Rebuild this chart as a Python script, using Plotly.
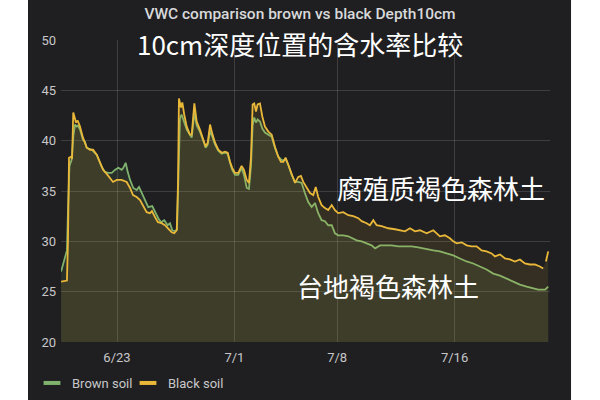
import plotly.graph_objects as go
import pandas as pd

# time in days since 2021-06-19 00:00, values are VWC (%)
start = pd.Timestamp("2021-06-19")

black_days = [0.19, 0.59, 0.66, 0.73, 0.87, 0.94, 1.02, 1.14, 1.21, 1.32, 1.48, 1.68, 1.94, 2.16, 2.37,
              2.62, 2.84, 3.05, 3.30, 3.52, 3.73, 3.98, 4.32, 4.66, 4.89, 5.09, 5.34, 5.57, 5.77, 6.02,
              6.25, 6.38, 6.59, 6.79, 7.04, 7.27, 7.47, 7.73, 7.90, 8.07, 8.16, 8.22, 8.36, 8.45, 8.58,
              8.75, 8.97, 9.09, 9.27, 9.43, 9.65, 9.88, 10.04, 10.18, 10.34, 10.49, 10.68, 10.90, 11.13,
              11.36, 11.54, 11.70, 11.85, 12.04, 12.26, 12.49, 12.65, 12.84, 12.99, 13.13, 13.24, 13.35,
              13.47, 13.58, 13.74, 13.90, 14.08, 14.31, 14.54, 14.76, 14.99, 15.17, 15.33, 15.49, 15.67,
              15.90, 16.13, 16.35, 16.53, 16.69, 16.92, 17.15, 17.37, 17.54, 17.71, 17.94, 18.17, 18.39,
              18.63, 18.85, 19.07, 19.42, 19.76, 20.10, 20.44, 20.67, 21.01, 21.23, 21.46, 21.69, 22.03,
              22.48, 22.94, 23.28, 23.62, 23.96, 24.30, 24.64, 25.10, 25.55, 25.78, 26.00, 26.34, 26.68,
              26.91, 27.14, 27.48, 27.82, 28.16, 28.50, 28.84, 29.18, 29.52, 29.75, 30.09, 30.43, 30.77,
              31.11, 31.45, 31.79, 32.13, 32.47, 32.81, 33.04, 33.13, 33.22, 33.38]
black_vwc = [26.0, 26.1, 30.0, 38.3, 38.4, 38.2, 42.8, 42.3, 41.8, 42.0, 41.4, 40.3, 39.3, 39.1, 39.1,
             38.6, 37.8, 37.1, 36.7, 36.3, 35.9, 36.1, 36.1, 35.9, 35.3, 34.6, 34.4, 34.1, 33.6, 32.9,
             32.8, 33.0, 32.4, 31.9, 31.8, 31.6, 31.3, 30.9, 30.8, 31.1, 36.0, 44.2, 43.3, 43.8, 42.6,
             41.4, 40.6, 40.6, 43.7, 41.9, 41.1, 40.1, 39.4, 39.8, 41.6, 40.7, 39.8, 39.1, 38.8,
             38.9, 38.8, 37.9, 37.3, 36.8, 36.8, 37.5, 37.1, 36.1, 35.8, 38.4, 43.6, 43.7,
             42.9, 43.6, 43.7, 42.4, 41.4, 40.9, 40.6, 39.4, 38.4, 37.9, 37.9, 38.3, 37.6,
             36.8, 35.8, 36.4, 36.5, 35.9, 35.3, 34.8, 34.6, 35.4, 34.4, 33.6, 33.3, 33.1,
             33.6, 33.1, 32.8, 32.9, 32.6, 32.5, 32.3, 32.0, 31.8, 31.6, 32.1, 31.6, 31.5,
             31.3, 31.2, 31.1, 31.0, 31.3, 31.0, 31.1, 30.8, 31.1, 30.8, 30.5, 30.6, 30.3,
             30.0, 29.8, 29.9, 29.6, 29.5, 29.5, 29.1, 29.0, 28.8, 28.5, 28.7, 28.3, 28.2,
             28.0, 28.2, 27.8, 27.7, 27.7, 27.5, 27.3, None, 28.0, 29.0]

brown_days = [0.19, 0.59, 0.66, 0.76, 0.91, 1.03, 1.14, 1.25, 1.34, 1.48, 1.68, 1.82, 1.94, 2.28, 2.62,
              2.96, 3.18, 3.41, 3.64, 3.86, 4.09, 4.32, 4.43, 4.59, 4.73, 4.89, 5.11, 5.34, 5.50, 5.68,
              5.91, 6.13, 6.40, 6.59, 6.81, 7.00, 7.22, 7.45, 7.61, 7.77, 7.95, 8.09, 8.17, 8.24, 8.29,
              8.40, 8.53, 8.75, 9.09, 9.27, 9.43, 9.65, 9.88, 10.04, 10.18, 10.34, 10.49, 10.68, 10.90,
              11.13, 11.36, 11.54, 11.70, 11.85, 12.04, 12.26, 12.49, 12.65, 12.84, 12.99, 13.13, 13.24,
              13.35, 13.47, 13.58, 13.74, 13.90, 14.08, 14.31, 14.54, 14.76, 14.99, 15.21, 15.33, 15.49,
              15.67, 15.90, 16.13, 16.35, 16.58, 16.80, 17.03, 17.26, 17.49, 17.71, 17.94, 18.17, 18.39,
              18.63, 18.85, 19.07, 19.42, 19.76, 20.10, 20.33, 20.67, 21.01, 21.35, 21.58, 21.92, 22.26,
              22.71, 23.16, 23.62, 24.07, 24.52, 24.98, 25.55, 26.00, 26.46, 26.91, 27.36, 27.82, 28.27,
              28.73, 29.18, 29.63, 30.09, 30.55, 31.00, 31.45, 31.91, 32.36, 32.70, 32.93, 33.16, 33.38]
brown_vwc = [27.0, 29.1, 33.0, 37.5, 38.1, 40.5, 41.6, 41.4, 41.5, 41.1, 40.1, 39.9, 39.3, 39.1, 38.6,
             37.4, 36.9, 36.8, 36.8, 37.1, 37.3, 37.1, 37.3, 37.8, 36.9, 36.1, 35.3, 35.1, 35.4, 34.8,
             34.1, 33.4, 33.5, 32.9, 32.3, 31.9, 32.1, 31.6, 31.8, 31.1, 31.0, 31.2, 36.0, 41.5, 42.2,
             42.6, 42.0, 41.1, 40.3, 42.8, 41.5, 40.9, 40.0, 39.3, 39.6, 41.0, 40.4, 39.6, 39.0,
             38.7, 38.8, 38.7, 37.8, 37.1, 36.6, 36.6, 37.3, 36.6, 35.3, 35.2, 37.5, 41.5,
             42.3, 41.8, 42.1, 41.9, 41.2, 40.8, 40.6, 40.4, 39.3, 38.4, 38.1, 38.0, 38.2,
             37.6, 36.6, 35.9, 35.9, 35.8, 34.8, 33.9, 33.4, 33.8, 32.8, 32.1, 32.0, 31.6,
             31.6, 30.8, 30.6, 30.6, 30.5, 30.3, 30.1, 30.0, 29.8, 29.6, 29.3, 29.6, 29.6,
             29.6, 29.5, 29.5, 29.5, 29.4, 29.3, 29.1, 29.0, 28.8, 28.6, 28.3, 28.0, 27.8,
             27.5, 27.2, 26.8, 26.6, 26.3, 26.0, 25.7, 25.5, 25.3, 25.2, 25.2, 25.2, 25.5]

tick_dates = ["2021-06-23", "2021-07-01", "2021-07-08", "2021-07-16"]
tick_text = ["6/23", "7/1", "7/8", "7/16"]

bg = "#1f1f21"
green = "#7eb26d"
yellow = "#eab839"
grid = "rgba(255,255,255,0.14)"
cjk = "Noto Sans CJK SC"

fig = go.Figure()
fig.add_trace(go.Scatter(
    x=start + pd.to_timedelta(brown_days, unit="D"), y=brown_vwc,
    mode="lines", line=dict(color=green, width=1.8),
    fill="tozeroy", fillcolor="rgba(126,178,109,0.11)",
    showlegend=False, name="Brown soil"))
fig.add_trace(go.Scatter(
    x=start + pd.to_timedelta(black_days, unit="D"), y=black_vwc,
    mode="lines", line=dict(color=yellow, width=1.8),
    fill="tozeroy", fillcolor="rgba(234,184,57,0.11)",
    showlegend=False, name="Black soil"))

# legend-only entries (short dash like grafana), one legend each so they sit close together
for nm, col, lg in [("Brown soil", green, "legend"), ("Black soil", yellow, "legend2")]:
    fig.add_trace(go.Scatter(
        x=[None], y=[None], mode="markers", name=nm, legend=lg,
        marker=dict(symbol="line-ew", size=12, line=dict(color=col, width=4))))

leg_style = dict(orientation="h", xref="container", yref="container", y=1 - 383 / 400,
                 xanchor="left", yanchor="middle", font=dict(size=13, color="#c7c7c9"),
                 itemwidth=30, bgcolor="rgba(0,0,0,0)")

fig.update_layout(
    width=600, height=400,
    margin=dict(l=61, r=50, t=40, b=58, autoexpand=False),
    paper_bgcolor=bg, plot_bgcolor=bg,
    font=dict(family="Roboto", color="#c7c7c9", size=13),
    title=dict(text="VWC comparison brown vs black Depth10cm", x=0.5, y=0.965,
               xanchor="center", yanchor="middle",
               font=dict(family="Roboto", size=15.5, color="#d8d9da", weight=500)),
    legend=dict(x=32 / 600, **leg_style),
    legend2=dict(x=128 / 600, **leg_style),
    shapes=[
        dict(type="rect", xref="paper", yref="paper", x0=-0.13, x1=-0.0675, y0=-0.25, y1=1.25,
             fillcolor="white", line=dict(width=0), layer="above"),
        dict(type="rect", xref="paper", yref="paper", x0=1.043, x1=1.11, y0=-0.25, y1=1.25,
             fillcolor="white", line=dict(width=0), layer="above"),
    ],
    annotations=[
        dict(text="10cm深度位置的含水率比较", xref="paper", yref="paper", x=(300 - 61) / 489,
             y=(342 - 43) / 302, xanchor="center", yanchor="middle",
             showarrow=False, font=dict(family=cjk, size=26, color="white")),
        dict(text="腐殖质褐色森林土", xref="paper", yref="paper", x=(441 - 61) / 489,
             y=(342 - 187) / 302, xanchor="center", yanchor="middle",
             showarrow=False, font=dict(family=cjk, size=26, color="white")),
        dict(text="台地褐色森林土", xref="paper", yref="paper", x=(388 - 61) / 489,
             y=(342 - 285) / 302, xanchor="center", yanchor="middle",
             showarrow=False, font=dict(family=cjk, size=26, color="white")),
    ],
)
fig.update_xaxes(
    type="date",
    range=[start + pd.Timedelta(days=0.185), start + pd.Timedelta(days=33.5)],
    tickvals=pd.to_datetime(tick_dates), ticktext=tick_text,
    showgrid=True, gridcolor=grid, gridwidth=1, zeroline=False, showline=False,
    ticks="", ticklabelstandoff=6)
fig.update_yaxes(
    range=[20, 50], dtick=5, tick0=20,
    showgrid=True, gridcolor=grid, gridwidth=1, zeroline=False, showline=False,
    ticks="", ticklabelstandoff=4)

fig.write_html("out.html", config={"displayModeBar": False},
               post_script="document.body.style.margin='0';")
